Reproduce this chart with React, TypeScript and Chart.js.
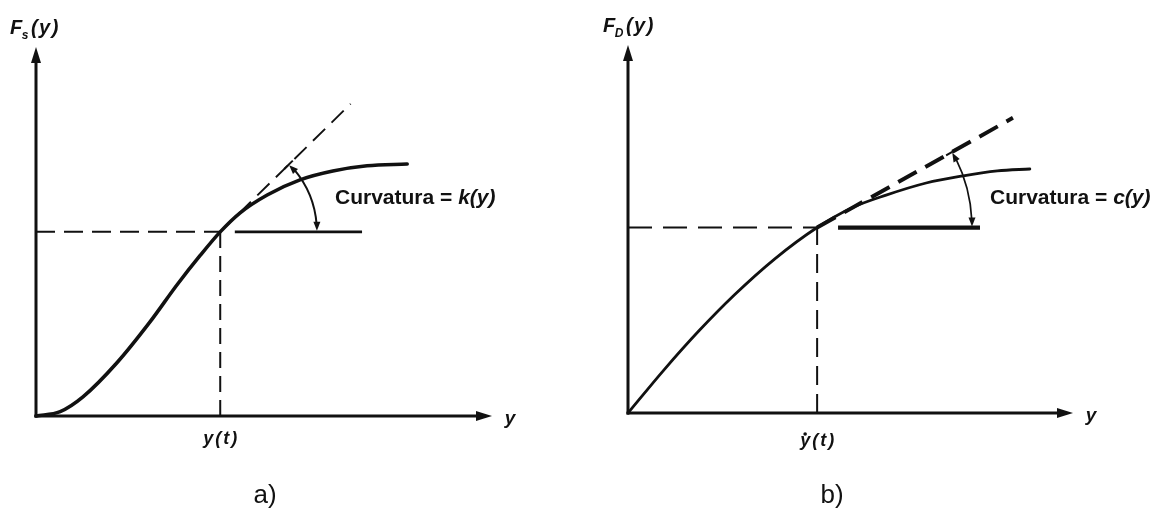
import { useEffect, useRef } from 'react';
import { Chart, registerables } from 'chart.js';

Chart.register(...registerables);

const INK = '#111111';
const SANS = '"Liberation Sans", Arial, sans-serif';
const PAGE_H = 513;

// Both panels use axis units 0–100 along y (horizontal) and F (vertical).

// a) spring force F_s(y): S-shaped curve
const springX = [0, 5.3, 10.3, 17.8, 25.0, 30.9, 36.0, 40.4, 44.7, 50.7, 57.9, 65.1, 72.6, 81.4];
const springY = [0, 1.2, 5.2, 14.5, 25.5, 35.5, 43.5, 49.9, 55.0, 59.9, 64.0, 66.4, 67.8, 68.3];
const springTangentX = [40.4, 69.0];
const springTangentY = [49.9, 84.6];
const springLevelX = [43.6, 71.5];
const springArcEndX = [61.6];
const springAxisTitle = ['F', 's', '(y)'];
const springTickLabels = ['y(t)'];
const springCurvature = ['Curvatura = ', 'k(y)'];
const springCaption = ['a)'];

// b) damping force F_D(y): concave curve
const dampX = [0, 8, 16, 24, 33, 42.5, 50, 58, 67, 75, 83, 90.3];
const dampY = [0, 11.6, 22.4, 32.2, 41.9, 50.4, 55.6, 59.2, 62.5, 64.4, 65.8, 66.3];
const dampTangentX = [42.5, 86.5];
const dampTangentY = [50.4, 80.2];
const dampLevelX = [47.2, 79.1];
const dampArcEndX = [77.3];
const dampAxisTitle = ['F', 'D', '(y)'];
const dampTickLabels = ['y(t)'];
const dampCurvature = ['Curvatura = ', 'c(y)'];
const dampCaption = ['b)'];

const xAxisTitle = ['y'];

type PanelCfg = {
  left: number;
  width: number;
  padding: { left: number; right: number; top: number; bottom: number };
  curveX: number[];
  curveY: number[];
  tangentX: number[];
  tangentY: number[];
  levelX: number[];
  arcEndX: number[];
  axisTitle: string[];
  tickLabels: string[];
  curvature: string[];
  caption: string[];
  dotted: boolean;
  curveWidth: number;
  tangentWidth: number;
  tangentDash: number[];
  guideDashH: number[];
  guideDashV: number[];
  levelWidth: number;
  arcWidth: number;
  titleLeft: number;
  curvatureAt: [number, number];
  captionAt: [number, number];
  tickY: number;
};

const panels: PanelCfg[] = [
  {
    left: 0,
    width: 586,
    padding: { left: 36, right: 94, top: 47, bottom: 97 },
    curveX: springX,
    curveY: springY,
    tangentX: springTangentX,
    tangentY: springTangentY,
    levelX: springLevelX,
    arcEndX: springArcEndX,
    axisTitle: springAxisTitle,
    tickLabels: springTickLabels,
    curvature: springCurvature,
    caption: springCaption,
    dotted: false,
    curveWidth: 3.6,
    tangentWidth: 1.9,
    tangentDash: [17, 9],
    guideDashH: [19, 9],
    guideDashV: [16, 8],
    levelWidth: 2.6,
    arcWidth: 2,
    titleLeft: 10,
    curvatureAt: [335, 198],
    captionAt: [265, 496],
    tickY: 439,
  },
  {
    left: 586,
    width: 587,
    padding: { left: 42, right: 100, top: 45, bottom: 100 },
    curveX: dampX,
    curveY: dampY,
    tangentX: dampTangentX,
    tangentY: dampTangentY,
    levelX: dampLevelX,
    arcEndX: dampArcEndX,
    axisTitle: dampAxisTitle,
    tickLabels: dampTickLabels,
    curvature: dampCurvature,
    caption: dampCaption,
    dotted: true,
    curveWidth: 2.8,
    tangentWidth: 4,
    tangentDash: [21, 10],
    guideDashH: [24, 11],
    guideDashV: [19, 9],
    levelWidth: 4.2,
    arcWidth: 1.7,
    titleLeft: 17,
    curvatureAt: [404, 198],
    captionAt: [246, 496],
    tickY: 441,
  },
];

function points(xs: number[], ys: number[]) {
  return xs.map((x, i) => ({ x, y: ys[i] }));
}

function arrowHead(ctx: CanvasRenderingContext2D, x: number, y: number, angle: number, len: number, half: number) {
  const c = Math.cos(angle);
  const s = Math.sin(angle);
  const bx = x - c * len;
  const by = y - s * len;
  ctx.beginPath();
  ctx.moveTo(x, y);
  ctx.lineTo(bx - s * half, by + c * half);
  ctx.lineTo(bx + s * half, by - c * half);
  ctx.closePath();
  ctx.fill();
}

function makeDiagramPlugin(cfg: PanelCfg) {
  return {
    id: 'diagram',
    beforeDatasetsDraw(chart: any) {
      const { ctx } = chart;
      const xs = chart.scales.x;
      const ys = chart.scales.y;
      const ox = xs.getPixelForValue(0);
      const oy = ys.getPixelForValue(0);
      const ex = xs.getPixelForValue(100);
      const ty = ys.getPixelForValue(100);
      ctx.save();
      ctx.strokeStyle = INK;
      ctx.fillStyle = INK;
      ctx.lineWidth = 3;
      ctx.lineCap = 'butt';
      ctx.beginPath();
      ctx.moveTo(ox - 1.5, oy);
      ctx.lineTo(ex - 10, oy);
      ctx.stroke();
      arrowHead(ctx, ex, oy, 0, 16, 5);
      ctx.beginPath();
      ctx.moveTo(ox, oy + 1.5);
      ctx.lineTo(ox, ty + 10);
      ctx.stroke();
      arrowHead(ctx, ox, ty, -Math.PI / 2, 16, 5);
      ctx.restore();
    },
    afterDatasetsDraw(chart: any) {
      const { ctx } = chart;
      const xs = chart.scales.x;
      const ys = chart.scales.y;
      const ex = xs.getPixelForValue(100);
      const oy = ys.getPixelForValue(0);
      const ty = ys.getPixelForValue(100);

      // curvature arc between tangent and horizontal reference
      const cx = xs.getPixelForValue(cfg.tangentX[0]);
      const cy = ys.getPixelForValue(cfg.tangentY[0]);
      const tx = xs.getPixelForValue(cfg.tangentX[1]);
      const tyy = ys.getPixelForValue(cfg.tangentY[1]);
      const theta = Math.atan2(tyy - cy, tx - cx);
      const r = xs.getPixelForValue(cfg.arcEndX[0]) - cx;
      const headLen = 9;
      const d = headLen / r;
      ctx.save();
      ctx.strokeStyle = INK;
      ctx.fillStyle = INK;
      ctx.lineWidth = cfg.arcWidth;
      ctx.beginPath();
      ctx.arc(cx, cy, r, theta + d * 0.8, -d * 0.8);
      ctx.stroke();
      arrowHead(ctx, cx + r, cy - 1, Math.PI / 2, headLen, 3.5);
      const topX = cx + r * Math.cos(theta);
      const topY = cy + r * Math.sin(theta);
      arrowHead(ctx, topX, topY + 1, theta - Math.PI / 2, headLen, 3.5);
      // short bar on the tangent where the arc meets it
      ctx.lineWidth = 2;
      ctx.beginPath();
      ctx.moveTo(topX - 7 * Math.cos(theta), topY - 7 * Math.sin(theta));
      ctx.lineTo(topX + 5 * Math.cos(theta), topY + 5 * Math.sin(theta));
      ctx.stroke();

      // vertical axis title, e.g. F_s(y)
      ctx.textAlign = 'left';
      ctx.textBaseline = 'alphabetic';
      const base = ty - 13;
      let px = cfg.titleLeft;
      ctx.font = `italic bold 20px ${SANS}`;
      ctx.fillText(cfg.axisTitle[0], px, base);
      px += ctx.measureText(cfg.axisTitle[0]).width - 0.5;
      ctx.font = `italic bold 12px ${SANS}`;
      ctx.fillText(cfg.axisTitle[1], px, base + 5);
      px += ctx.measureText(cfg.axisTitle[1]).width + 2.5;
      ctx.font = `italic bold 20px ${SANS}`;
      (ctx as any).letterSpacing = '1.5px';
      ctx.fillText(cfg.axisTitle[2], px, base);
      (ctx as any).letterSpacing = '0px';

      // horizontal axis title
      ctx.font = `italic bold 19px ${SANS}`;
      ctx.textAlign = 'center';
      ctx.textBaseline = 'middle';
      ctx.fillText(xAxisTitle[0], ex + 18, oy + 3);

      // tick label under the operating point
      ctx.font = `italic bold 18px ${SANS}`;
      (ctx as any).letterSpacing = '2px';
      ctx.fillText(cfg.tickLabels[0], cx + 1, cfg.tickY);
      const tw = ctx.measureText(cfg.tickLabels[0]).width;
      (ctx as any).letterSpacing = '0px';
      if (cfg.dotted) {
        ctx.beginPath();
        ctx.arc(cx + 1 - tw / 2 + 5, cfg.tickY - 7, 1.8, 0, Math.PI * 2);
        ctx.fill();
      }

      // curvature label
      ctx.textAlign = 'left';
      ctx.font = `bold 21px ${SANS}`;
      const [lx, ly] = cfg.curvatureAt;
      ctx.fillText(cfg.curvature[0], lx, ly);
      const w0 = ctx.measureText(cfg.curvature[0]).width;
      ctx.font = `italic bold 21px ${SANS}`;
      ctx.fillText(cfg.curvature[1], lx + w0, ly);

      // panel caption
      ctx.textAlign = 'center';
      ctx.font = `26px ${SANS}`;
      ctx.fillText(cfg.caption[0], cfg.captionAt[0], cfg.captionAt[1]);
      ctx.restore();
    },
  };
}

function Panel({ cfg }: { cfg: PanelCfg }) {
  const ref = useRef<HTMLCanvasElement>(null);
  useEffect(() => {
    if (!ref.current) return;
    const xT = cfg.tangentX[0];
    const yT = cfg.tangentY[0];
    const line = (extra: any) => ({
      pointRadius: 0,
      borderColor: INK,
      fill: false,
      clip: false,
      borderCapStyle: 'butt',
      ...extra,
    });
    const chart = new Chart(ref.current, {
      type: 'line',
      data: {
        datasets: [
          line({ data: points(cfg.curveX, cfg.curveY), borderWidth: cfg.curveWidth, cubicInterpolationMode: 'monotone', borderCapStyle: 'round' }),
          line({ data: points(cfg.tangentX, cfg.tangentY), borderWidth: cfg.tangentWidth, borderDash: cfg.tangentDash }),
          line({ data: [{ x: 0, y: yT }, { x: xT, y: yT }], borderWidth: 2, borderDash: cfg.guideDashH }),
          line({ data: [{ x: xT, y: 0 }, { x: xT, y: yT }], borderWidth: 2, borderDash: cfg.guideDashV }),
          line({ data: [{ x: cfg.levelX[0], y: yT }, { x: cfg.levelX[1], y: yT }], borderWidth: cfg.levelWidth }),
        ],
      },
      options: {
        animation: false,
        responsive: false,
        devicePixelRatio: 1,
        events: [],
        layout: { padding: cfg.padding },
        scales: {
          x: { type: 'linear', min: 0, max: 100, display: false },
          y: { type: 'linear', min: 0, max: 100, display: false },
        },
        plugins: { legend: { display: false }, tooltip: { enabled: false } },
      },
      plugins: [makeDiagramPlugin(cfg)],
    } as any);
    return () => chart.destroy();
  }, [cfg]);
  return (
    <canvas
      ref={ref}
      width={cfg.width}
      height={PAGE_H}
      style={{ position: 'absolute', left: cfg.left, top: 0, width: cfg.width, height: PAGE_H }}
    />
  );
}

export default function App() {
  return (
    <div style={{ position: 'fixed', left: 0, top: 0, width: 1173, height: PAGE_H, background: '#ffffff', overflow: 'hidden' }}>
      {panels.map((p) => (
        <Panel key={p.left} cfg={p} />
      ))}
    </div>
  );
}
